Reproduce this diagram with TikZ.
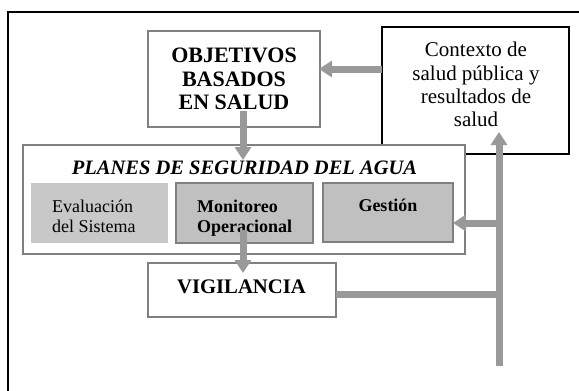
\documentclass[tikz,border=0pt]{standalone}
\usepackage{fontspec}
\setmainfont{Liberation Serif}
\usetikzlibrary{arrows.meta}
\definecolor{arrowgray}{RGB}{153,153,153}
\definecolor{boxgray}{RGB}{128,128,128}
\definecolor{fillA}{RGB}{200,200,200}
\definecolor{fillB}{RGB}{192,192,192}
\tikzset{
  box/.style={draw=boxgray, line width=1.5pt, fill=white, inner sep=0pt},
  blackbox/.style={draw=black, line width=2pt, fill=white, inner sep=0pt},
  subbox/.style={draw=boxgray, line width=1.5pt, fill=fillB, inner sep=0pt},
  plainbox/.style={draw=none, fill=fillA, inner sep=0pt},
  txt/.style={inner sep=0pt},
  bigarrow/.style={draw=arrowgray, line width=7pt, -{Triangle[width=16pt,length=13pt]}},
  bigline/.style={draw=arrowgray, line width=7pt},
  frame/.style={draw=black, line width=1.5pt}
}
\begin{document}
\begin{tikzpicture}[x=1pt,y=-1pt]
\useasboundingbox (0,0) rectangle (579,391);
% outer frame (top and left only)
\coordinate (ftl) at (8,12);
\coordinate (ftr) at (579,12);
\coordinate (fbl) at (8,391);
\draw[frame] (fbl) -- (ftl) -- (ftr);
% boxes
\node[box, minimum width=172pt, minimum height=96pt] (obj) at (234,79) {};
\node[blackbox, minimum width=187pt, minimum height=127pt] (ctx) at (475.5,90.5) {};
\node[box, minimum width=442pt, minimum height=109pt] (psa) at (244,199.5) {};
\node[plainbox, minimum width=137pt, minimum height=60pt] (eva) at (99.5,213) {};
\node[subbox, minimum width=137pt, minimum height=60pt] (mon) at (244.5,213) {};
\node[subbox, minimum width=130pt, minimum height=59pt] (ges) at (388,212.5) {};
\node[box, minimum width=188pt, minimum height=54pt] (vig) at (242,290) {};
% texts
\node[txt, anchor=north, align=center, font=\fontsize{22}{23.5}\selectfont\bfseries] (objt) at (234,48) {OBJETIVOS\\BASADOS\\EN SALUD};
\node[txt, anchor=north, align=center, font=\fontsize{21}{23.3}\selectfont] (ctxt) at (476,42) {Contexto de\\salud pública y\\resultados de\\salud};
\node[txt, anchor=base, font=\fontsize{20.5}{22}\selectfont\bfseries\itshape] (psat) at (244.5,174) {PLANES DE SEGURIDAD DEL AGUA};
\node[txt, anchor=north west, align=left, font=\fontsize{18}{19.5}\selectfont] (evat) at (52,200) {Evaluación\\del Sistema};
\node[txt, anchor=north west, align=left, font=\fontsize{18}{19.5}\selectfont\bfseries] (mont) at (197,200) {Monitoreo\\Operacional};
\node[txt, anchor=base, font=\fontsize{18}{19.5}\selectfont\bfseries] (gest) at (388,211) {Gestión};
\node[txt, anchor=base, font=\fontsize{20.7}{22}\selectfont\bfseries] (vigt) at (241.5,293) {VIGILANCIA};
% connector coordinates
\coordinate (a1s) at (243,111);
\coordinate (a1e) at (243,160);
\coordinate (a2s) at (382,69);
\coordinate (a2e) at (319,69);
\coordinate (a3s) at (243,230);
\coordinate (a3e) at (243,273);
\coordinate (vbot) at (499,366);
\coordinate (vtop) at (499,132);
\coordinate (gj) at (499,223);
\coordinate (ge) at (453,223);
\coordinate (vj) at (499,294);
\coordinate (vs) at (336,294);
% arrows
\draw[bigarrow] (a1s) -- (a1e);
\draw[bigarrow] (a2s) -- (a2e);
\draw[bigarrow] (a3s) -- (a3e);
\draw[bigarrow] (vbot) -- (vtop);
\draw[bigarrow] (gj) -- (ge);
\draw[bigline] (vs) -- (vj);
\end{tikzpicture}
\end{document}
